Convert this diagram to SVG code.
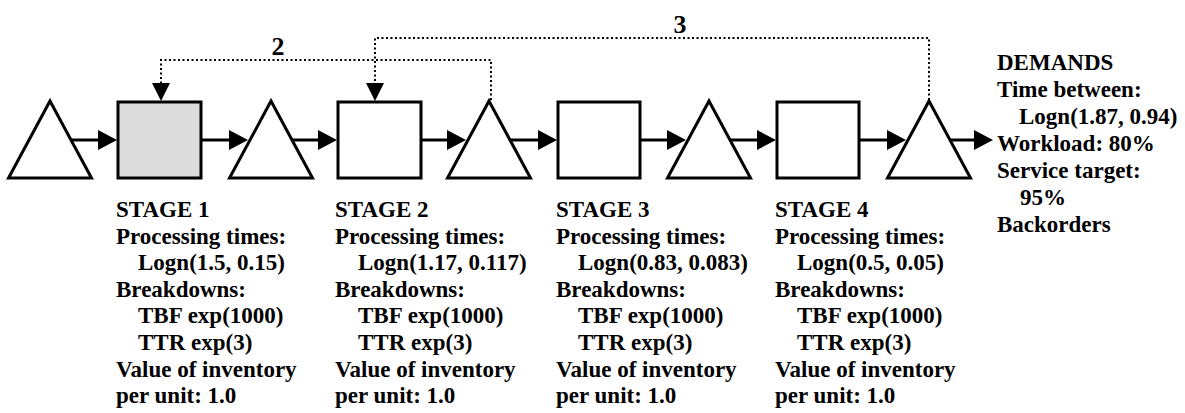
<svg xmlns="http://www.w3.org/2000/svg" width="1185" height="413" viewBox="0 0 1185 413">
  <style>
    .shape { fill: #ffffff; stroke: #000000; stroke-width: 3; stroke-linejoin: miter; }
    .busy { fill: #dcdcdc; }
    .flow { fill: none; stroke: #000000; stroke-width: 3; }
    .loop { fill: none; stroke: #000000; stroke-width: 2; stroke-dasharray: 2 2.5; }
    .txt { font-family: "Liberation Serif", "Times New Roman", serif; font-weight: bold; font-size: 23px; fill: #000000; }
    .num { font-family: "Liberation Serif", "Times New Roman", serif; font-weight: bold; font-size: 26px; fill: #000000; }
  </style>
  <defs>
    <marker id="head" markerUnits="userSpaceOnUse" markerWidth="20" markerHeight="20" refX="9" refY="10" orient="auto">
      <path d="M0,0 L19,10 L0,20 Z" fill="#000000"/>
    </marker>
    <marker id="headSmall" markerUnits="userSpaceOnUse" markerWidth="19" markerHeight="19" refX="8" refY="9" orient="auto">
      <path d="M0,0 L18,9 L0,18 Z" fill="#000000"/>
    </marker>
  </defs>

  <!-- buffers (triangles) and stations (squares) -->
  <g id="buffer0"><polygon class="shape" points="50,101 91.5,178 8.5,178"/></g>
  <g id="stage1"><rect class="shape busy" x="118" y="102" width="83" height="76"/></g>
  <g id="buffer1"><polygon class="shape" points="271,101 312.5,178 229.5,178"/></g>
  <g id="stage2"><rect class="shape" x="338" y="102" width="83" height="76"/></g>
  <g id="buffer2"><polygon class="shape" points="489,101 530.5,178 447.5,178"/></g>
  <g id="stage3"><rect class="shape" x="558" y="102" width="82" height="76"/></g>
  <g id="buffer3"><polygon class="shape" points="709,101 750.5,178 667.5,178"/></g>
  <g id="stage4"><rect class="shape" x="777" y="102" width="82" height="76"/></g>
  <g id="buffer4"><polygon class="shape" points="929,101 970.5,178 887.5,178"/></g>

  <!-- material flow and kanban loops -->
  <g id="connectors">
    <line class="flow" x1="71" y1="140" x2="107" y2="140" marker-end="url(#head)"/>
    <line class="flow" x1="201" y1="140" x2="238" y2="140" marker-end="url(#head)"/>
    <line class="flow" x1="292" y1="140" x2="327" y2="140" marker-end="url(#head)"/>
    <line class="flow" x1="421" y1="140" x2="456" y2="140" marker-end="url(#head)"/>
    <line class="flow" x1="510" y1="140" x2="547" y2="140" marker-end="url(#head)"/>
    <line class="flow" x1="640" y1="140" x2="676" y2="140" marker-end="url(#head)"/>
    <line class="flow" x1="730" y1="140" x2="766" y2="140" marker-end="url(#head)"/>
    <line class="flow" x1="859" y1="140" x2="896" y2="140" marker-end="url(#head)"/>
    <line class="flow" x1="950" y1="140" x2="983" y2="140" marker-end="url(#head)"/>

    <path class="loop" d="M491,100 V60 H161 V91" marker-end="url(#headSmall)"/>
    <path class="loop" d="M929,100 V38 H375 V91" marker-end="url(#headSmall)"/>
    <text class="num" x="278" y="55" text-anchor="middle">2</text>
    <text class="num" x="680" y="33" text-anchor="middle">3</text>
  </g>

  <!-- stage parameters -->
  <g id="stage1-info" class="txt">
    <text x="116" y="217">STAGE 1</text>
    <text x="116" y="244">Processing times:</text>
    <text x="138" y="270">Logn(1.5, 0.15)</text>
    <text x="116" y="297">Breakdowns:</text>
    <text x="138" y="323">TBF exp(1000)</text>
    <text x="138" y="350">TTR exp(3)</text>
    <text x="116" y="377">Value of inventory</text>
    <text x="116" y="403">per unit: 1.0</text>
  </g>
  <g id="stage2-info" class="txt">
    <text x="335" y="217">STAGE 2</text>
    <text x="335" y="244">Processing times:</text>
    <text x="358" y="270">Logn(1.17, 0.117)</text>
    <text x="335" y="297">Breakdowns:</text>
    <text x="358" y="323">TBF exp(1000)</text>
    <text x="358" y="350">TTR exp(3)</text>
    <text x="335" y="377">Value of inventory</text>
    <text x="335" y="403">per unit: 1.0</text>
  </g>
  <g id="stage3-info" class="txt">
    <text x="556" y="217">STAGE 3</text>
    <text x="556" y="244">Processing times:</text>
    <text x="578" y="270">Logn(0.83, 0.083)</text>
    <text x="556" y="297">Breakdowns:</text>
    <text x="578" y="323">TBF exp(1000)</text>
    <text x="578" y="350">TTR exp(3)</text>
    <text x="556" y="377">Value of inventory</text>
    <text x="556" y="403">per unit: 1.0</text>
  </g>
  <g id="stage4-info" class="txt">
    <text x="775" y="217">STAGE 4</text>
    <text x="775" y="244">Processing times:</text>
    <text x="797" y="270">Logn(0.5, 0.05)</text>
    <text x="775" y="297">Breakdowns:</text>
    <text x="797" y="323">TBF exp(1000)</text>
    <text x="797" y="350">TTR exp(3)</text>
    <text x="775" y="377">Value of inventory</text>
    <text x="775" y="403">per unit: 1.0</text>
  </g>

  <!-- customer demand -->
  <g id="demands" class="txt">
    <text x="997" y="70">DEMANDS</text>
    <text x="997" y="97">Time between:</text>
    <text x="1019" y="124">Logn(1.87, 0.94)</text>
    <text x="997" y="151">Workload: 80%</text>
    <text x="997" y="178">Service target:</text>
    <text x="1020" y="205">95%</text>
    <text x="997" y="232">Backorders</text>
  </g>
</svg>
